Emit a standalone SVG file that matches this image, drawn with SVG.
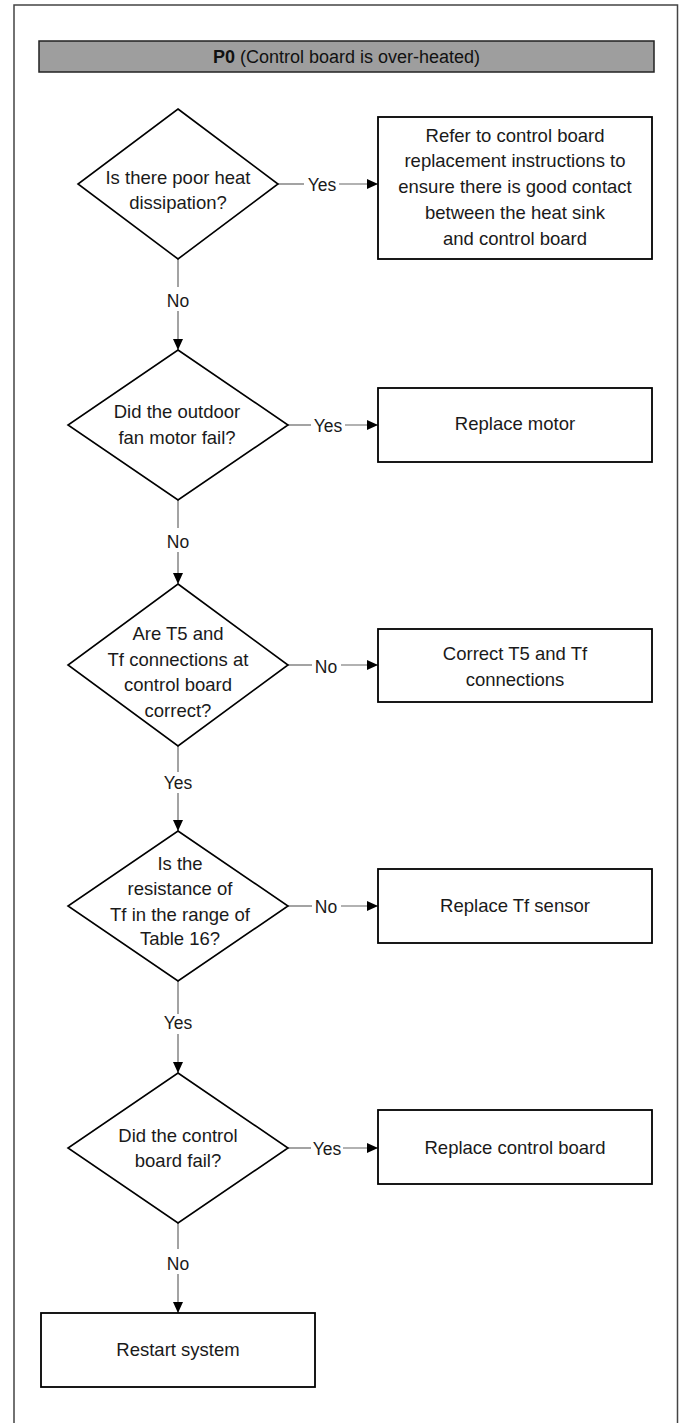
<svg xmlns="http://www.w3.org/2000/svg" width="679" height="1423" viewBox="0 0 679 1423">
<style>
  .frame{fill:none;stroke:#444;stroke-width:1.5}
  .hdr{fill:#9e9e9e;stroke:#222;stroke-width:1.5}
  .dia{fill:#fff;stroke:#000;stroke-width:1.6}
  .box{fill:#fff;stroke:#000;stroke-width:1.8}
  .t{font-family:"Liberation Sans",Arial,sans-serif;font-size:18.5px;fill:#1a1a1a;text-anchor:middle}
  .h{font-family:"Liberation Sans",Arial,sans-serif;font-size:18px;fill:#111;text-anchor:middle}
  .lbl{font-family:"Liberation Sans",Arial,sans-serif;font-size:17.5px;fill:#1a1a1a;text-anchor:middle}
  .ln{fill:none;stroke:#666;stroke-width:1.2}
</style>
<defs>
  <marker id="arr" markerUnits="userSpaceOnUse" markerWidth="12" markerHeight="11" refX="11" refY="5" orient="auto">
    <path d="M0,0 L11,5 L0,10 z" fill="#000"/>
  </marker>
</defs>
<rect width="679" height="1423" fill="#fff"/>
<path class="frame" d="M14,1423 V5 H677.5 V1423"/>
<g id="header">
  <rect class="hdr" x="39" y="41" width="615" height="31"/>
  <text class="h" x="346.5" y="63"><tspan font-weight="bold">P0</tspan> (Control board is over-heated)</text>
</g>

<g id="connectors">
  <line class="ln" x1="278" y1="184" x2="304" y2="184"/>
  <line class="ln" x1="339" y1="184" x2="378" y2="184" marker-end="url(#arr)"/>
  <text class="lbl" x="322" y="191">Yes</text>

  <line class="ln" x1="178" y1="259" x2="178" y2="287"/>
  <line class="ln" x1="178" y1="311" x2="178" y2="350" marker-end="url(#arr)"/>
  <text class="lbl" x="178" y="306.5">No</text>

  <line class="ln" x1="288" y1="425" x2="311" y2="425"/>
  <line class="ln" x1="345" y1="425" x2="378" y2="425" marker-end="url(#arr)"/>
  <text class="lbl" x="328" y="432">Yes</text>

  <line class="ln" x1="178" y1="500" x2="178" y2="528"/>
  <line class="ln" x1="178" y1="552" x2="178" y2="584" marker-end="url(#arr)"/>
  <text class="lbl" x="178" y="548">No</text>

  <line class="ln" x1="288" y1="665" x2="312" y2="665"/>
  <line class="ln" x1="341" y1="665" x2="378" y2="665" marker-end="url(#arr)"/>
  <text class="lbl" x="326" y="672.5">No</text>

  <line class="ln" x1="178" y1="746" x2="178" y2="772"/>
  <line class="ln" x1="178" y1="793" x2="178" y2="831" marker-end="url(#arr)"/>
  <text class="lbl" x="178" y="789">Yes</text>

  <line class="ln" x1="288" y1="906" x2="312" y2="906"/>
  <line class="ln" x1="341" y1="906" x2="378" y2="906" marker-end="url(#arr)"/>
  <text class="lbl" x="326" y="913">No</text>

  <line class="ln" x1="178" y1="981" x2="178" y2="1014"/>
  <line class="ln" x1="178" y1="1034" x2="178" y2="1073" marker-end="url(#arr)"/>
  <text class="lbl" x="178" y="1029">Yes</text>

  <line class="ln" x1="288" y1="1148" x2="311" y2="1148"/>
  <line class="ln" x1="343" y1="1148" x2="378" y2="1148" marker-end="url(#arr)"/>
  <text class="lbl" x="327" y="1155">Yes</text>

  <line class="ln" x1="178" y1="1223" x2="178" y2="1249"/>
  <line class="ln" x1="178" y1="1274" x2="178" y2="1313" marker-end="url(#arr)"/>
  <text class="lbl" x="178" y="1270">No</text>
</g>

<g id="d1">
  <polygon class="dia" points="178,109 278,184 178,259 78,184"/>
  <text class="t" x="178" y="184">Is there poor heat</text>
  <text class="t" x="178" y="209">dissipation?</text>
</g>
<g id="r1">
  <rect class="box" x="378" y="117" width="274" height="142"/>
  <text class="t" x="515" y="141.7">Refer to control board</text>
  <text class="t" x="515" y="167.3">replacement instructions to</text>
  <text class="t" x="515" y="193">ensure there is good contact</text>
  <text class="t" x="515" y="219">between the heat sink</text>
  <text class="t" x="515" y="245">and control board</text>
</g>

<g id="d2">
  <polygon class="dia" points="178,350 288,425 178,500 68,425"/>
  <text class="t" x="177" y="418">Did the outdoor</text>
  <text class="t" x="177" y="444">fan motor fail?</text>
</g>
<g id="r2">
  <rect class="box" x="378" y="388" width="274" height="74"/>
  <text class="t" x="515" y="429.5">Replace motor</text>
</g>

<g id="d3">
  <polygon class="dia" points="178,584 288,665 178,746 68,665"/>
  <text class="t" x="178" y="639.5">Are T5 and</text>
  <text class="t" x="178" y="665.5">Tf connections at</text>
  <text class="t" x="178" y="691">control board</text>
  <text class="t" x="178" y="716.5">correct?</text>
</g>
<g id="r3">
  <rect class="box" x="378" y="629" width="274" height="73"/>
  <text class="t" x="515" y="660">Correct T5 and Tf</text>
  <text class="t" x="515" y="686">connections</text>
</g>

<g id="d4">
  <polygon class="dia" points="178,831 288,906 178,981 68,906"/>
  <text class="t" x="180" y="870">Is the</text>
  <text class="t" x="180" y="895.3">resistance of</text>
  <text class="t" x="180" y="920.5">Tf in the range of</text>
  <text class="t" x="180" y="945">Table 16?</text>
</g>
<g id="r4">
  <rect class="box" x="378" y="869" width="274" height="74"/>
  <text class="t" x="515" y="912">Replace Tf sensor</text>
</g>

<g id="d5">
  <polygon class="dia" points="178,1073 288,1148 178,1223 68,1148"/>
  <text class="t" x="178" y="1141.5">Did the control</text>
  <text class="t" x="178" y="1166.5">board fail?</text>
</g>
<g id="r5">
  <rect class="box" x="378" y="1110" width="274" height="74"/>
  <text class="t" x="515" y="1153.5">Replace control board</text>
</g>

<g id="r6">
  <rect class="box" x="41" y="1313" width="274" height="74"/>
  <text class="t" x="178" y="1356">Restart system</text>
</g>
</svg>
